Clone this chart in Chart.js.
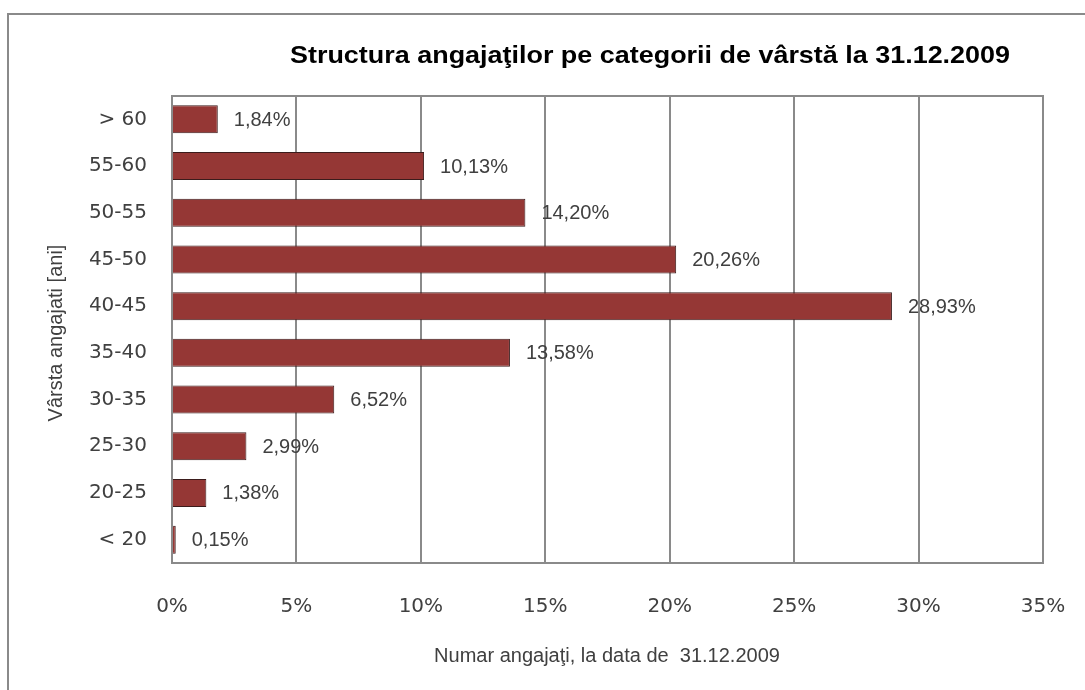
<!DOCTYPE html>
<html lang="ro">
<head>
  <meta charset="UTF-8">
  <title>Structura angajaţilor pe categorii de vârstă</title>
  <script src="https://cdn.jsdelivr.net/npm/chart.js"></script>
  <style>
    body { margin: 0; background: #fff; }
  </style>
</head>
<body>
<canvas id="chart" width="1085" height="690"></canvas>

<script>
  // date
  const categorii = ['> 60', '55-60', '50-55', '45-50', '40-45', '35-40', '30-35', '25-30', '20-25', '< 20'];
  const procente = [1.84, 10.13, 14.20, 20.26, 28.93, 13.58, 6.52, 2.99, 1.38, 0.15];
  const xTicks = [0, 5, 10, 15, 20, 25, 30, 35];

  const titlu = 'Structura angajaţilor pe categorii de vârstă la 31.12.2009';
  const titluX = 'Numar angajaţi, la data de  31.12.2009';
  const titluY = 'Vârsta angajati [ani]';

  const fmt = v => v.toFixed(2).replace('.', ',') + '%';

  // rama, titluri si etichete
  const decor = {
    id: 'decor',
    beforeDraw(chart) {
      const ctx = chart.ctx;
      ctx.save();
      ctx.strokeStyle = '#8a8a8a';
      ctx.lineWidth = 2;
      ctx.beginPath();
      ctx.moveTo(8, 690);
      ctx.lineTo(8, 14);
      ctx.lineTo(1085, 14);
      ctx.stroke();
      ctx.restore();
    },
    afterDatasetsDraw(chart) {
      const ctx = chart.ctx;
      const a = chart.chartArea;
      ctx.save();
      // chenar zona grafic
      ctx.strokeStyle = '#8a8a8a';
      ctx.lineWidth = 2;
      ctx.strokeRect(a.left, a.top, a.right - a.left, a.bottom - a.top);

      // etichete valori
      ctx.fillStyle = '#404040';
      ctx.font = '20px "Liberation Sans", Arial, sans-serif';
      ctx.textAlign = 'left';
      ctx.textBaseline = 'middle';
      chart.getDatasetMeta(0).data.forEach((bar, i) => {
        ctx.fillText(fmt(procente[i]), bar.x + 16, bar.y + 1);
      });

      // titlu principal (ingustat ca in Excel)
      ctx.fillStyle = '#000';
      ctx.font = 'bold 24px "Liberation Sans", Arial, sans-serif';
      ctx.textAlign = 'center';
      const w = ctx.measureText(titlu).width;
      ctx.save();
      ctx.translate(650, 56);
      ctx.scale(720 / w, 1);
      ctx.fillText(titlu, 0, 0);
      ctx.restore();

      // titluri axe
      ctx.fillStyle = '#404040';
      ctx.font = '20px "Liberation Sans", Arial, sans-serif';
      ctx.fillText(titluX, 607, 656);
      ctx.save();
      ctx.translate(56, 333);
      ctx.rotate(-Math.PI / 2);
      ctx.fillText(titluY, 0, 0);
      ctx.restore();
      ctx.restore();
    }
  };

  new Chart(document.getElementById('chart'), {
    type: 'bar',
    data: {
      labels: categorii,
      datasets: [{
        data: procente,
        backgroundColor: '#953735',
        borderColor: '#3b1c1c',
        borderWidth: 1,
        barPercentage: 0.6,
        categoryPercentage: 1
      }]
    },
    options: {
      indexAxis: 'y',
      responsive: false,
      animation: false,
      layout: { padding: { top: 96, right: 42, left: 0, bottom: 0 } },
      plugins: {
        legend: { display: false },
        tooltip: { enabled: false }
      },
      scales: {
        x: {
          min: 0,
          max: 35,
          afterFit: s => {
            s.height = 127;
            s.paddingLeft = 0;
            s.paddingRight = 0;
          },
          afterBuildTicks: s => { s.ticks = xTicks.map(v => ({ value: v })); },
          grid: { color: '#8a8a8a', lineWidth: 2, drawTicks: false },
          border: { display: false },
          ticks: {
            padding: 32,
            color: '#404040',
            font: { family: '"DejaVu Sans", sans-serif', size: 20 },
            callback: v => v + '%'
          }
        },
        y: {
          afterFit: s => {
            s.width = 172;
            s.paddingTop = 0;
            s.paddingBottom = 0;
          },
          grid: { display: false, drawTicks: false },
          border: { display: false },
          ticks: {
            padding: 25,
            color: '#404040',
            font: { family: '"DejaVu Sans", sans-serif', size: 20 }
          }
        }
      }
    },
    plugins: [decor]
  });
</script>
</body>
</html>
